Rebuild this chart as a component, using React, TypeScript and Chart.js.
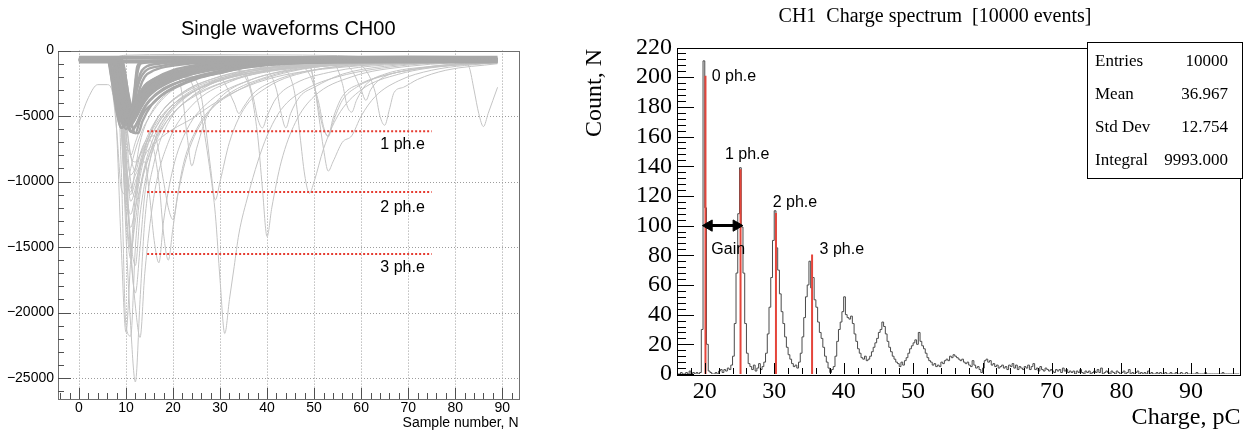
import React, { useEffect, useRef } from 'react';
import { Chart, registerables } from 'chart.js';

Chart.register(...registerables);

const SANS = '"Liberation Sans", Arial, Helvetica, sans-serif';
const SERIF = '"Liberation Serif", "Times New Roman", Times, serif';

// ---------------- Left panel: single waveforms ----------------
const waveTitle = 'Single waveforms CH00';
const waveAxisTitle = 'Sample number, N';
const waveXTicks = [0, 10, 20, 30, 40, 50, 60, 70, 80, 90];
const waveYTicks = [0, -5000, -10000, -15000, -20000, -25000];
const waveYTickLabels = ['0', '\u22125000', '\u221210000', '\u221215000', '\u221220000', '\u221225000'];
const waveXRange = [-4.45, 93.45];
const waveYRange = [-26600, 0];

const baselineTraces = [
  [[0, -480], [20, -470], [45, -500], [70, -470], [89, -490]],
  [[0, -900], [25, -890], [50, -910], [75, -890], [89, -900]],
  [[0, -800], [30, -780], [60, -810], [89, -790]],
  [[0, -600], [30, -610], [60, -590], [89, -600]],
];

const bandTraces = [
  [[0, -650], [6, -650], [7, -2300], [8, -4500], [9, -5900], [10, -5600], [11, -4700], [12, -3900], [13, -3200], [14, -2650], [16, -2150], [20, -1500], [25, -1100], [30, -860], [45, -720], [89, -650]],
  [[0, -700], [6.5, -700], [7.5, -2500], [8.5, -4600], [9.5, -5700], [10.5, -5200], [11.5, -4400], [13, -3500], [15, -2800], [20, -1900], [25, -1400], [30, -1100], [40, -850], [89, -700]],
  [[0, -750], [7, -750], [8, -2600], [9, -4900], [10, -6000], [11, -5300], [12, -4400], [13, -3700], [15, -3000], [18, -2300], [22, -1800], [28, -1300], [35, -1000], [50, -800], [89, -720]],
  [[0, -600], [7.5, -600], [8.5, -2200], [9.5, -4300], [10.5, -5800], [11.5, -5500], [12.5, -4700], [14, -3800], [16, -3100], [20, -2300], [26, -1600], [32, -1200], [45, -850], [89, -650]],
  [[0, -800], [8, -800], [9, -2400], [10, -4600], [11, -6100], [12, -6300], [13, -5300], [14, -4600], [15.5, -4100], [18, -3300], [20, -2850], [25, -2100], [30, -1700], [38, -1100], [55, -850], [89, -800]],
  [[0, -700], [8.5, -700], [9.5, -2000], [10.5, -3800], [11.4, -4500], [12.2, -4300], [13, -3700], [14, -3100], [16, -2500], [20, -1800], [25, -1300], [30, -1000], [45, -780], [89, -700]],
  [[0, -650], [9, -650], [9.7, -1500], [10.5, -3300], [11.3, -4400], [12, -4600], [13, -4000], [14, -3400], [16, -2700], [20, -1950], [26, -1400], [33, -1050], [50, -780], [89, -650]],
  [[0, -720], [6.2, -720], [7.2, -2800], [8.2, -5000], [9, -5900], [10, -5300], [11, -4600], [12, -3900], [13, -3250], [15, -2500], [18, -1950], [23, -1450], [30, -1000], [45, -780], [89, -700]],
  [[0, -680], [8, -680], [9, -2800], [10, -5200], [11, -6200], [12, -5800], [13, -5000], [14, -4300], [16, -3500], [20, -2600], [25, -2000], [30, -1600], [40, -1100], [60, -800], [89, -700]],
  [[0, -700], [7, -700], [8, -2000], [9, -4000], [10, -5100], [11, -4600], [12, -3900], [13, -3300], [14, -2900], [17, -2200], [22, -1600], [28, -1150], [36, -900], [89, -700]],
  [[0, -760], [8.5, -760], [9.5, -2600], [10.5, -4800], [11.5, -5900], [12.5, -5400], [13.5, -4600], [15, -3800], [18, -2900], [22, -2300], [28, -1700], [36, -1200], [55, -850], [89, -760]],
  [[0, -640], [7.5, -640], [8.5, -3000], [9.5, -5200], [10.5, -5400], [11.5, -4600], [12.5, -3900], [14, -3200], [17, -2400], [21, -1800], [27, -1300], [35, -950], [89, -650]],
  [[0, -700], [6, -700], [7, -1800], [8, -3800], [9, -5300], [10, -5000], [11, -4400], [12, -3900], [13, -3250], [14, -2700], [17, -2000], [21, -1550], [29, -950], [45, -750], [89, -700]],
  [[0, -820], [9, -820], [10, -3000], [11, -5200], [12, -6300], [12.6, -6300], [13.5, -5400], [15.4, -4160], [18, -3300], [20, -2900], [25.3, -2120], [29.5, -1740], [38, -1100], [55, -880], [89, -820]],
  [[0, -700], [7.8, -700], [8.8, -2900], [9.8, -5000], [10.8, -5600], [11.8, -5000], [12.8, -4300], [14, -3600], [16, -2900], [20, -2100], [25, -1600], [30, -1250], [40, -950], [89, -700]],
  [[0, -660], [7, -660], [8, -3200], [9, -5400], [10, -5700], [11, -4900], [12, -4100], [13, -3500], [15, -2800], [19, -2000], [24, -1500], [30, -1100], [42, -850], [89, -660]],
  [[0, -740], [8.3, -740], [9.3, -2300], [10.3, -4500], [11.3, -5500], [12.3, -5000], [13.3, -4300], [15, -3400], [18, -2600], [22, -2000], [28, -1500], [36, -1100], [55, -820], [89, -740]],
  [[0, -700], [9.2, -700], [10, -2200], [10.8, -4000], [11.5, -4800], [12.3, -4500], [13.2, -3900], [14.5, -3300], [17, -2600], [21, -2000], [27, -1450], [35, -1050], [50, -800], [89, -700]],
  [[0, -700], [8, -700], [9, -2500], [10, -4800], [11, -5000], [11.8, -3000], [12.4, -1200], [13.5, -850], [20, -750], [89, -700]],
  [[0, -650], [7.5, -650], [8.5, -3000], [9.5, -5200], [10.5, -5400], [11.5, -4300], [12.2, -2000], [12.8, -1000], [15, -800], [89, -650]],
  [[0, -750], [8.2, -750], [9.2, -2600], [10.2, -4600], [11.2, -5200], [11.9, -3800], [12.5, -1600], [13.5, -950], [20, -800], [89, -720]],
  [[0, -700], [7, -700], [8, -2800], [9, -5200], [10, -5600], [11, -4900], [12, -3400], [13, -2200], [14, -1600], [17, -1200], [25, -900], [89, -700]],
  [[0, -680], [8, -680], [9, -2700], [10, -5000], [11, -5500], [12, -4200], [13, -2800], [14, -2000], [16, -1500], [20, -1150], [30, -850], [89, -680]],
  [[0, -720], [8.8, -720], [9.8, -2800], [10.8, -4700], [11.6, -4600], [12.3, -3000], [13, -1800], [14, -1300], [17, -1000], [30, -800], [89, -720]],
];

const pulseTraces = [
  [[0, -5500], [2, -3600], [4, -2600], [6, -2600], [7, -3000], [8, -6000], [9, -10500], [10, -11000], [11, -9000], [13, -6500], [16, -4500], [20, -3000], [28, -1800], [40, -1100], [60, -800], [89, -700]],
  [[0, -700], [8, -700], [9, -5000], [10, -14000], [11, -21000], [12, -25300], [13, -19000], [14, -13000], [16, -8500], [19, -5500], [24, -3500], [32, -2000], [45, -1200], [70, -800], [89, -700]],
  [[0, -700], [7, -700], [8, -6000], [9, -15000], [10, -21500], [11, -16000], [12, -11000], [14, -7500], [17, -5000], [22, -3200], [30, -2000], [45, -1100], [89, -700]],
  [[0, -700], [9, -700], [10, -8000], [11, -15000], [12, -19500], [13, -21900], [14, -17000], [16, -11000], [19, -7000], [24, -4200], [32, -2400], [45, -1300], [70, -850], [89, -700]],
  [[0, -700], [8, -700], [9, -9000], [10, -21000], [11, -21800], [12, -15000], [13, -11000], [15, -8000], [18, -5500], [23, -3500], [32, -2000], [50, -1000], [89, -700]],
  [[0, -700], [8, -700], [9, -4000], [10, -10000], [11, -14500], [12, -16400], [13, -12500], [15, -8500], [18, -5800], [23, -3800], [30, -2500], [45, -1300], [89, -750]],
  [[0, -700], [8, -700], [9, -6000], [10, -12500], [11, -15900], [12, -12000], [14, -8000], [17, -5500], [21, -3800], [28, -2400], [40, -1300], [89, -720]],
  [[0, -700], [8, -700], [9, -4500], [10, -8500], [11, -10500], [12, -9500], [14, -8500], [15, -11000], [16, -14500], [17, -16200], [18, -13000], [20, -9000], [23, -6000], [28, -3800], [36, -2300], [50, -1200], [89, -750]],
  [[0, -700], [8, -700], [9, -3500], [10, -7500], [11, -9500], [13, -8000], [15, -6800], [17, -10000], [18, -14000], [19, -16000], [20, -13500], [22, -9000], [25, -6000], [30, -3800], [40, -2000], [55, -1100], [89, -750]],
  [[0, -700], [8, -700], [10, -5500], [11, -8000], [12, -8500], [14, -7000], [16, -6500], [18, -10000], [19, -12000], [20, -12900], [21, -11000], [23, -8000], [27, -5000], [33, -3200], [45, -1600], [65, -900], [89, -700]],
  [[0, -700], [8, -700], [9, -4500], [10, -9000], [11, -10800], [12, -9000], [13, -7000], [15, -5000], [18, -3500], [23, -2400], [30, -1600], [42, -1000], [89, -700]],
  [[0, -700], [8, -700], [9, -3500], [10, -8000], [11, -11500], [12, -10500], [13, -8500], [15, -6500], [18, -4800], [22, -3600], [28, -2500], [38, -1600], [55, -1000], [89, -720]],
  [[0, -700], [9, -700], [10, -6000], [11, -10000], [12, -11200], [13, -9000], [15, -6800], [19, -4500], [25, -3000], [33, -2000], [48, -1200], [89, -750]],
  [[0, -700], [8, -700], [9, -5000], [10, -10500], [11, -12500], [12, -11000], [14, -7500], [17, -5000], [21, -3500], [28, -2200], [40, -1300], [89, -700]],
  [[0, -700], [8, -700], [9, -3000], [10, -4800], [11, -5500], [12, -4600], [13, -3800], [16, -2800], [20, -2200], [24, -2000], [26, -3500], [27, -6000], [28, -9000], [29, -11400], [30, -10000], [32, -7000], [35, -4500], [40, -2800], [50, -1500], [65, -950], [89, -720]],
  [[0, -700], [8, -700], [9, -2800], [10, -4600], [11, -5400], [12, -4500], [13, -3600], [17, -2500], [22, -2000], [24, -2500], [26, -5000], [28, -9500], [29, -12500], [30, -17500], [31, -21600], [32, -19000], [33, -16500], [34, -14000], [36, -11000], [38, -8500], [40, -6500], [43, -4500], [48, -3000], [55, -2000], [70, -1100], [89, -750]],
  [[0, -700], [8, -700], [9, -2900], [10, -4500], [11, -5200], [12, -4300], [13, -3500], [17, -2400], [24, -1700], [32, -1400], [36, -2500], [38, -6500], [39, -10500], [40, -14200], [41, -12000], [43, -8500], [46, -5500], [50, -3500], [58, -2000], [70, -1200], [89, -800]],
  [[0, -700], [8, -700], [9, -3000], [10, -5000], [11, -5100], [12, -4200], [14, -3300], [20, -2000], [30, -1300], [40, -1000], [44, -1500], [46, -3500], [47, -6500], [48, -9500], [49, -10900], [50, -10000], [52, -7500], [55, -5000], [60, -3000], [68, -1800], [80, -1100], [89, -900]],
  [[0, -700], [8, -700], [9, -3200], [10, -5300], [11, -5300], [12, -4400], [14, -3500], [20, -2100], [30, -1400], [42, -1000], [49, -1200], [50, -2500], [51, -5000], [52, -7500], [53, -9200], [54, -8500], [56, -7000], [58, -6500], [60, -5000], [63, -3500], [68, -2300], [75, -1500], [89, -900]],
  [[0, -700], [8, -700], [9, -2700], [10, -4800], [11, -4900], [12, -4000], [14, -3200], [20, -2000], [30, -1300], [45, -900], [49, -1000], [50, -2500], [51, -4500], [52, -6000], [53, -6500], [54, -5200], [56, -3500], [60, -2500], [66, -1800], [75, -1200], [89, -800]],
  [[0, -700], [8, -700], [9, -3000], [10, -5000], [11, -5100], [12, -4200], [14, -3300], [20, -2000], [30, -1300], [45, -950], [58, -900], [61, -1500], [63, -3200], [64, -5000], [65, -5700], [66, -4500], [67, -3200], [69, -2800], [72, -2200], [78, -1500], [89, -1000]],
  [[0, -700], [8, -700], [9, -2600], [10, -4600], [11, -4700], [12, -3900], [14, -3100], [20, -1900], [30, -1200], [45, -900], [65, -800], [82, -900], [83, -1300], [84, -3000], [85, -4800], [86, -5800], [87, -4800], [88, -3800], [89, -2800]],
  [[0, -700], [8, -700], [9, -3100], [10, -5200], [11, -5300], [12, -4300], [14, -3400], [20, -2100], [28, -1400], [36, -1200], [40, -1500], [42, -3000], [43, -4800], [44, -5900], [45, -4800], [47, -3500], [50, -2800], [56, -1800], [65, -1200], [89, -800]],
  [[0, -700], [8, -700], [9, -2900], [10, -4900], [11, -5000], [12, -4100], [14, -3200], [20, -2000], [30, -1400], [35, -1600], [37, -3500], [38, -5200], [39, -5900], [40, -5000], [42, -3600], [46, -2500], [54, -1600], [65, -1100], [89, -750]],
  [[0, -700], [8, -700], [9, -4000], [10, -9000], [11, -11000], [12, -10000], [14, -8000], [17, -6800], [20, -6000], [24, -5200], [28, -4200], [34, -3000], [42, -2000], [55, -1300], [75, -900], [89, -750]],
  [[0, -700], [8, -700], [9, -2600], [10, -4500], [11, -4600], [12, -3900], [14, -3000], [20, -1900], [30, -1300], [40, -1000], [46, -1100], [49, -1800], [51, -4000], [52, -5800], [53, -6580], [54, -5500], [56, -3800], [59, -2800], [64, -2000], [72, -1400], [89, -900]],
  [[0, -700], [8, -700], [9, -2800], [10, -4700], [11, -4800], [12, -4000], [15, -3000], [22, -1800], [32, -1200], [45, -950], [55, -900], [58, -1500], [60, -3000], [61, -3800], [62, -3000], [64, -2200], [70, -1500], [80, -1100], [89, -900]],
  [[0, -700], [8, -700], [9, -2900], [10, -4800], [11, -4900], [12, -4100], [14, -3200], [18, -2300], [24, -1600], [29, -1500], [31, -2500], [33, -4000], [34, -4800], [35, -4300], [37, -3300], [41, -2400], [48, -1600], [60, -1100], [89, -800]],
  [[0, -700], [8, -700], [9, -3000], [10, -5000], [11, -5100], [12, -4200], [14, -3300], [18, -2300], [21, -2000], [22, -3500], [23, -6500], [24, -8800], [25, -7500], [27, -5200], [30, -3600], [36, -2300], [45, -1500], [60, -1000], [89, -750]],
  [[0, -700], [8, -700], [9, -2700], [10, -4600], [11, -4700], [12, -3900], [15, -3000], [22, -1800], [32, -1200], [45, -900], [54, -950], [56, -2500], [57, -4200], [58, -4700], [59, -3800], [61, -2600], [65, -1800], [75, -1200], [89, -850]],
  [[0, -650], [7, -650], [8, -500], [10, -350], [20, -300], [40, -330], [55, -380], [62, -500], [70, -600], [89, -650]],
  [[0, -700], [8, -700], [9, -6000], [10, -12000], [11, -15200], [12, -13000], [13, -10500], [15, -7500], [18, -5200], [22, -3700], [30, -2300], [42, -1400], [60, -900], [89, -700]],
  [[0, -700], [8, -700], [9, -5500], [10, -11000], [11, -13500], [12, -12000], [14, -9000], [16, -7000], [20, -4800], [26, -3200], [35, -2000], [50, -1200], [89, -750]],
  [[0, -700], [9, -700], [10, -5000], [11, -8000], [12, -9200], [13, -8000], [15, -6200], [18, -4500], [23, -3100], [30, -2100], [40, -1400], [55, -950], [89, -720]],
  [[0, -700], [8, -700], [9, -3000], [10, -6500], [11, -8000], [12, -7000], [14, -5000], [17, -3600], [22, -2500], [30, -1700], [42, -1100], [89, -720]],
  [[0, -700], [8, -700], [9, -3000], [10, -9000], [11, -15500], [12, -18500], [13, -15000], [14, -11000], [16, -7000], [19, -4800], [25, -3000], [35, -1800], [89, -750]],
];

const phLevels = [-6150, -10800, -15530];
const phLevelFrom = 14.5;
const phLevelTo = 75;
const phLabels = ['1 ph.e', '2 ph.e', '3 ph.e'];
const phLabelX = 68.8;
const phLabelY = [-7200, -11950, -16600];

// ---------------- Right panel: charge spectrum ----------------
const specTitle = 'CH1  Charge spectrum  [10000 events]';
const specXTitle = 'Charge, pC';
const specYTitle = 'Count, N';
const specXTicks = [20, 30, 40, 50, 60, 70, 80, 90];
const specYTicks = [0, 20, 40, 60, 80, 100, 120, 140, 160, 180, 200, 220];
const specXRange = [16, 97];
const specYRange = [0, 220];
const histStart = 16;
const histBinWidth = 0.25;
const histCounts = [
  0, 0, 1, 0, 0, 1, 0, 2, 0, 1, 0, 1, 0, 1, 30, 211,
  112, 20, 2, 1, 0, 0, 1, 0, 2, 3, 1, 3, 2, 4, 3, 6,
  12, 34, 68, 108, 139, 99, 68, 34, 14, 7, 5, 3, 6, 2, 4, 7,
  3, 5, 8, 14, 27, 45, 65, 90, 110, 85, 70, 54, 42, 34, 25, 18,
  13, 10, 7, 5, 6, 4, 8, 14, 25, 38, 52, 60, 76, 58, 65, 50,
  45, 35, 28, 24, 18, 12, 8, 4, 1, 3, 5, 12, 22, 30, 35, 42,
  52, 40, 38, 37, 39, 34, 27, 22, 17, 14, 11, 10, 12, 9, 10, 12,
  15, 18, 21, 24, 28, 30, 35, 32, 27, 22, 18, 15, 12, 10, 8, 7,
  5, 8, 6, 9, 11, 14, 17, 19, 21, 23, 20, 28, 22, 19, 17, 14,
  11, 9, 8, 6, 7, 5, 6, 5, 8, 7, 9, 10, 9, 12, 11, 13,
  12, 11, 10, 9, 10, 8, 7, 8, 6, 5, 9, 6, 4, 5, 3, 1,
  4, 9, 10, 8, 9, 6, 7, 5, 6, 4, 5, 6, 4, 5, 3, 6,
  5, 7, 4, 6, 3, 5, 4, 3, 5, 4, 6, 3, 5, 7, 3, 4,
  2, 5, 3, 2, 4, 3, 2, 3, 2, 1, 3, 2, 3, 1, 4, 2,
  3, 1, 2, 1, 2, 0, 2, 1, 3, 1, 0, 2, 1, 2, 0, 1,
  2, 1, 3, 1, 4, 0, 1, 2, 1, 0, 2, 1, 0, 2, 1, 0,
  1, 2, 0, 1, 3, 0, 1, 0, 1, 2, 0, 1, 0, 1, 0, 2,
  0, 1, 0, 0, 1, 0, 1, 0, 0, 1, 0, 0, 1, 0, 0, 1,
  0, 0, 1, 0, 0, 1, 0, 0, 0, 0, 0, 1, 0, 0, 0, 0,
  1, 0, 0, 0, 0, 0, 0, 0, 0, 0, 1, 0, 0, 0, 0, 0,
  0, 0, 0, 0,
];
const peakMarkX = [20.1, 25.15, 30.25, 35.45];
const peakMarkY = [201, 138, 108.5, 80.5];
const peakLabels = ['0 ph.e', '1 ph.e', '2 ph.e', '3 ph.e'];
const peakLabelX = [24.2, 26.1, 32.98, 39.74];
const peakLabelY = [200.3, 147.6, 115.7, 83.6];
const gainArrowX = [20.6, 24.55];
const gainArrowY = 100;
const gainLabel = 'Gain';
const gainLabelX = 23.38;
const gainLabelY = 84;
const statsLabels = ['Entries', 'Mean', 'Std Dev', 'Integral'];
const statsValues = ['10000', '36.967', '12.754', '9993.000'];

// ---------------- helpers ----------------
const toXY = (pts: number[][]) => pts.map(([x, y]) => ({ x, y }));

function hLine(ctx: CanvasRenderingContext2D, x1: number, x2: number, y: number) {
  ctx.beginPath();
  ctx.moveTo(x1, y);
  ctx.lineTo(x2, y);
  ctx.stroke();
}
function vLine(ctx: CanvasRenderingContext2D, x: number, y1: number, y2: number) {
  ctx.beginPath();
  ctx.moveTo(x, y1);
  ctx.lineTo(x, y2);
  ctx.stroke();
}

const leftPlugin = {
  id: 'leftRoot',
  beforeDatasetsDraw(chart: any) {
    const { ctx, chartArea: a } = chart;
    const xs = chart.scales.x;
    const ys = chart.scales.y;
    ctx.save();
    ctx.strokeStyle = '#9c9c9c';
    ctx.lineWidth = 1;
    ctx.setLineDash([1, 2]);
    waveXTicks.forEach((v) => vLine(ctx, Math.round(xs.getPixelForValue(v)) + 0.5, a.top, a.bottom));
    waveYTicks.forEach((v) => hLine(ctx, a.left, a.right, Math.round(ys.getPixelForValue(v)) + 0.5));
    ctx.restore();
  },
  afterDatasetsDraw(chart: any) {
    const { ctx, chartArea: a } = chart;
    const xs = chart.scales.x;
    const ys = chart.scales.y;
    ctx.save();
    ctx.setLineDash([]);
    ctx.strokeStyle = '#707070';
    ctx.lineWidth = 1;
    ctx.strokeRect(Math.round(a.left) + 0.5, Math.round(a.top) + 0.5, Math.round(a.right - a.left), Math.round(a.bottom - a.top));
    ctx.strokeStyle = '#505050';
    for (let v = -4; v <= 92; v += 2) {
      const p = Math.round(xs.getPixelForValue(v)) + 0.5;
      const len = v % 10 === 0 ? 11 : 6;
      vLine(ctx, p, a.bottom, a.bottom - len);
    }
    for (let v = 0; v >= -26000; v -= 1000) {
      const p = Math.round(ys.getPixelForValue(v)) + 0.5;
      const len = v % 5000 === 0 ? 13 : 6;
      hLine(ctx, a.left, a.left + len, p);
    }
    ctx.fillStyle = '#000';
    ctx.textBaseline = 'middle';
    ctx.font = `16px ${SANS}`;
    ctx.textAlign = 'center';
    phLabels.forEach((t, i) => ctx.fillText(t, xs.getPixelForValue(phLabelX), ys.getPixelForValue(phLabelY[i])));
    ctx.font = `20px ${SANS}`;
    ctx.fillText(waveTitle, (a.left + a.right) / 2, 29);
    ctx.font = `14px ${SANS}`;
    ctx.textAlign = 'right';
    ctx.fillText(waveAxisTitle, a.right, 423);
    ctx.restore();
  },
};

const rightPlugin = {
  id: 'rightRoot',
  afterDatasetsDraw(chart: any) {
    const { ctx, chartArea: a } = chart;
    const xs = chart.scales.x;
    const ys = chart.scales.y;
    ctx.save();
    ctx.strokeStyle = '#000';
    ctx.lineWidth = 1;
    ctx.strokeRect(Math.round(a.left) + 0.5, Math.round(a.top) + 0.5, Math.round(a.right - a.left), Math.round(a.bottom - a.top));
    for (let v = 16; v <= 96; v += 2) {
      const p = Math.round(xs.getPixelForValue(v)) + 0.5;
      const len = v % 10 === 0 ? 11 : 6;
      vLine(ctx, p, a.bottom, a.bottom - len);
    }
    for (let v = 0; v <= 220; v += 4) {
      const p = Math.round(ys.getPixelForValue(v)) + 0.5;
      const len = v % 20 === 0 ? 17 : 9;
      hLine(ctx, a.left, a.left + len, p);
    }
    ctx.fillStyle = '#000';
    ctx.textBaseline = 'middle';
    ctx.textAlign = 'center';
    ctx.font = `16px ${SANS}`;
    peakLabels.forEach((t, i) => ctx.fillText(t, xs.getPixelForValue(peakLabelX[i]), ys.getPixelForValue(peakLabelY[i])));
    ctx.fillText(gainLabel, xs.getPixelForValue(gainLabelX), ys.getPixelForValue(gainLabelY));
    const bx = Math.round(a.right) - 153;
    const by = Math.round(a.top) - 6;
    const bw = 155;
    const bh = 136;
    ctx.fillStyle = '#fff';
    ctx.fillRect(bx, by, bw, bh);
    ctx.strokeStyle = '#000';
    ctx.strokeRect(bx + 0.5, by + 0.5, bw, bh);
    ctx.fillStyle = '#000';
    ctx.font = `17px ${SERIF}`;
    statsLabels.forEach((t, i) => {
      const ty = by + 20 + i * 33;
      ctx.textAlign = 'left';
      ctx.fillText(t, bx + 8, ty);
      ctx.textAlign = 'right';
      ctx.fillText(statsValues[i], bx + bw - 14, ty);
    });
    ctx.textAlign = 'center';
    ctx.font = `20px ${SERIF}`;
    ctx.fillText(specTitle, 375, 17);
    ctx.font = `24px ${SERIF}`;
    ctx.textAlign = 'right';
    ctx.fillText(specXTitle, a.right + 1, 418);
    ctx.translate(35, 93);
    ctx.rotate(-Math.PI / 2);
    ctx.textAlign = 'center';
    ctx.fillText(specYTitle, 0, 0);
    ctx.restore();
  },
};

function LeftChart() {
  const ref = useRef<HTMLCanvasElement>(null);
  useEffect(() => {
    if (!ref.current) return;
    const datasets: any[] = [];
    phLevels.forEach((lv) => {
      datasets.push({
        data: [{ x: phLevelFrom, y: lv }, { x: phLevelTo, y: lv }],
        borderColor: '#e53b30',
        borderWidth: 2,
        borderDash: [2, 2],
        pointRadius: 0,
        order: 0,
      });
    });
    [...baselineTraces, ...bandTraces].forEach((w) => {
      datasets.push({
        data: toXY(w),
        borderColor: '#a8a8a8',
        borderWidth: 2.4,
        pointRadius: 0,
        cubicInterpolationMode: 'monotone',
        order: 1,
      });
    });
    pulseTraces.forEach((w) => {
      datasets.push({
        data: toXY(w),
        borderColor: '#c4c4c4',
        borderWidth: 1,
        pointRadius: 0,
        cubicInterpolationMode: 'monotone',
        order: 2,
      });
    });
    const chart = new Chart(ref.current, {
      type: 'line',
      data: { datasets },
      options: {
        animation: false,
        responsive: false,
        devicePixelRatio: 1,
        events: [],
        layout: { padding: { left: 0, top: 50.6, right: 21.5, bottom: 0 } },
        plugins: { legend: { display: false }, tooltip: { enabled: false }, title: { display: false } },
        scales: {
          x: {
            type: 'linear',
            min: waveXRange[0],
            max: waveXRange[1],
            afterBuildTicks: (s: any) => { s.ticks = waveXTicks.map((v) => ({ value: v })); },
            afterFit: (s: any) => { s.height = 31; },
            grid: { display: false, drawTicks: false },
            border: { display: false },
            ticks: { autoSkip: false, maxRotation: 0, padding: 1, color: '#000', font: { family: SANS, size: 14 } },
          },
          y: {
            type: 'linear',
            min: waveYRange[0],
            max: waveYRange[1],
            afterBuildTicks: (s: any) => { s.ticks = waveYTicks.map((v) => ({ value: v })); },
            afterFit: (s: any) => { s.width = 58; },
            grid: { display: false, drawTicks: false },
            border: { display: false },
            ticks: {
              autoSkip: false,
              padding: 4,
              color: '#000',
              font: { family: SANS, size: 14 },
              callback: (v: any) => waveYTickLabels[waveYTicks.indexOf(Number(v))],
            },
          },
        },
      },
      plugins: [leftPlugin],
    } as any);
    return () => chart.destroy();
  }, []);
  return <canvas ref={ref} width={540} height={430} style={{ position: 'absolute', left: 0, top: 0, width: 540, height: 430 }} />;
}

function RightChart() {
  const ref = useRef<HTMLCanvasElement>(null);
  useEffect(() => {
    if (!ref.current) return;
    const hist = histCounts.map((c, i) => ({ x: histStart + i * histBinWidth, y: c }));
    hist.push({ x: histStart + histCounts.length * histBinWidth, y: histCounts[histCounts.length - 1] });
    const datasets: any[] = [];
    peakMarkX.forEach((px, i) => {
      datasets.push({
        data: [{ x: px, y: 0 }, { x: px, y: peakMarkY[i] }],
        borderColor: '#e5453b',
        borderWidth: 2,
        pointRadius: 0,
        order: 1,
      });
    });
    datasets.push({
      data: [{ x: gainArrowX[0], y: gainArrowY }, { x: gainArrowX[1], y: gainArrowY }],
      borderColor: '#000',
      borderWidth: 3,
      pointStyle: 'triangle',
      pointRadius: 6.5,
      pointRotation: [270, 90],
      pointBackgroundColor: '#000',
      pointBorderColor: '#000',
      pointBorderWidth: 1,
      order: 0,
    });
    datasets.push({
      data: hist,
      borderColor: '#4a4a4a',
      borderWidth: 1,
      pointRadius: 0,
      stepped: true,
      order: 2,
    });
    const chart = new Chart(ref.current, {
      type: 'line',
      data: { datasets },
      options: {
        animation: false,
        responsive: false,
        devicePixelRatio: 1,
        events: [],
        layout: { padding: { left: 0, top: 47.5, right: 7, bottom: 0 } },
        plugins: { legend: { display: false }, tooltip: { enabled: false }, title: { display: false } },
        scales: {
          x: {
            type: 'linear',
            min: specXRange[0],
            max: specXRange[1],
            afterBuildTicks: (s: any) => { s.ticks = specXTicks.map((v) => ({ value: v })); },
            afterFit: (s: any) => { s.height = 56; },
            grid: { display: false, drawTicks: false },
            border: { display: false },
            ticks: { autoSkip: false, maxRotation: 0, padding: 3, color: '#000', font: { family: SERIF, size: 24 } },
          },
          y: {
            type: 'linear',
            min: specYRange[0],
            max: specYRange[1],
            afterBuildTicks: (s: any) => { s.ticks = specYTicks.map((v) => ({ value: v })); },
            afterFit: (s: any) => { s.width = 117; },
            grid: { display: false, drawTicks: false },
            border: { display: false },
            ticks: { autoSkip: false, padding: 5, color: '#000', font: { family: SERIF, size: 24 } },
          },
        },
      },
      plugins: [rightPlugin],
    } as any);
    return () => chart.destroy();
  }, []);
  return <canvas ref={ref} width={687} height={430} style={{ position: 'absolute', left: 560, top: 0, width: 687, height: 430 }} />;
}

export default function App() {
  return (
    <div style={{ position: 'absolute', left: 0, top: 0, width: 1247, height: 430, background: '#fff', overflow: 'hidden' }}>
      <LeftChart />
      <RightChart />
    </div>
  );
}
